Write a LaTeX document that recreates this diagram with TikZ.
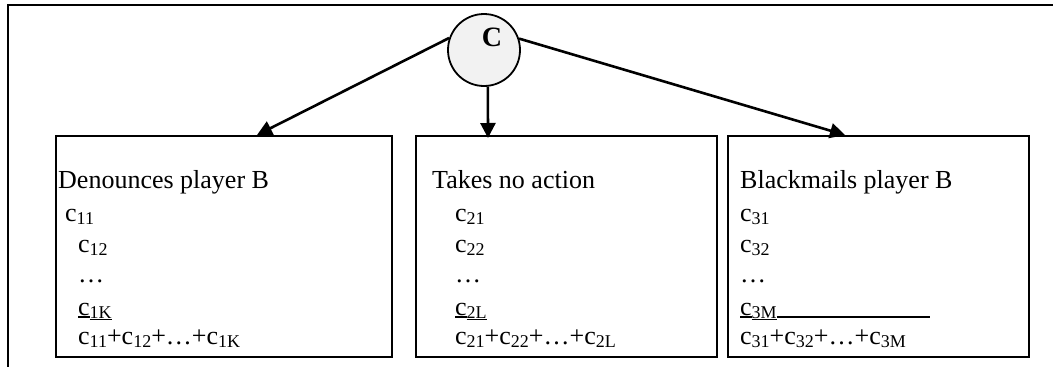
\documentclass[tikz,border=0pt]{standalone}
\usepackage{fontspec}
\setmainfont{Liberation Serif}
\usetikzlibrary{arrows.meta}
\newsavebox\myulbox
\newcommand\ulx[3]{\sbox\myulbox{#1}\rlap{\rule[#3]{\wd\myulbox}{#2}}\usebox\myulbox}
\newcommand\csub[1]{\raisebox{-3pt}{\fontsize{18}{20}\selectfont #1}}
\begin{document}
\begin{tikzpicture}[x=1pt,y=-1pt,
  frame/.style={line width=2pt},
  boxnode/.style={draw,line width=2pt,minimum height=221pt,inner sep=0pt},
  chance/.style={draw,circle,line width=1.8pt,fill=black!5,minimum size=72pt,inner sep=0pt},
  txt/.style={anchor=base west,inner sep=0pt,font=\fontsize{26}{30}\selectfont},
  arr/.style={line width=2.6pt,-{Triangle[length=15pt,width=15pt]}}]
\useasboundingbox (0,0) rectangle (1053,367);
\draw[frame] (8,367) -- (8,5) -- (1053,5);
\node[chance] (C) at (484,50) {};
\node[inner sep=0pt,font=\fontsize{28}{30}\selectfont\bfseries] (Cl) at (492,37.5) {C};
\node[boxnode,minimum width=336pt] (b1) at (224,246.5) {};
\node[boxnode,minimum width=301pt] (b2) at (566.5,246.5) {};
\node[boxnode,minimum width=301pt] (b3) at (878.5,246.5) {};
\draw[arr] (C.161) -- ([xshift=33pt]b1.north);
\draw[arr] (C.-84) -- ([xshift=-78.5pt,yshift=-3pt]b2.north);
\draw[arr] (C.18) -- ([xshift=-33.5pt]b3.north);
% box 1
\node[txt] (t1) at (58,188) {Denounces player B};
\node[txt] (t11) at (65,221) {c\csub{11}};
\node[txt] (t12) at (78,252) {c\csub{12}};
\node[txt] (t13) at (78,282) {…};
\node[txt] (t14) at (78,315) {\ulx{c}{2.5pt}{-3pt}\csub{\ulx{1K}{1.5pt}{-2pt}}};
\node[txt] (t15) at (78,344) {c\csub{11}+c\csub{12}+…+c\csub{1K}};
% box 2
\node[txt] (t2) at (432,188) {Takes no action};
\node[txt] (t21) at (455,221) {c\csub{21}};
\node[txt] (t22) at (455,252) {c\csub{22}};
\node[txt] (t23) at (455,282) {…};
\node[txt] (t24) at (455,315) {\ulx{c}{2.5pt}{-3pt}\csub{\ulx{2L}{1.5pt}{-2pt}}};
\node[txt] (t25) at (455,344) {c\csub{21}+c\csub{22}+…+c\csub{2L}};
% box 3
\node[txt] (t3) at (740,188) {Blackmails player B};
\node[txt] (t31) at (740,221) {c\csub{31}};
\node[txt] (t32) at (740,252) {c\csub{32}};
\node[txt] (t33) at (740,282) {…};
\node[txt] (t34) at (740,315) {\ulx{c}{2.5pt}{-3pt}\csub{\ulx{3M}{1.5pt}{-2pt}}\rule[-3pt]{153pt}{2.5pt}};
\node[txt] (t35) at (740,344) {c\csub{31}+c\csub{32}+…+c\csub{3M}};
\end{tikzpicture}
\end{document}
